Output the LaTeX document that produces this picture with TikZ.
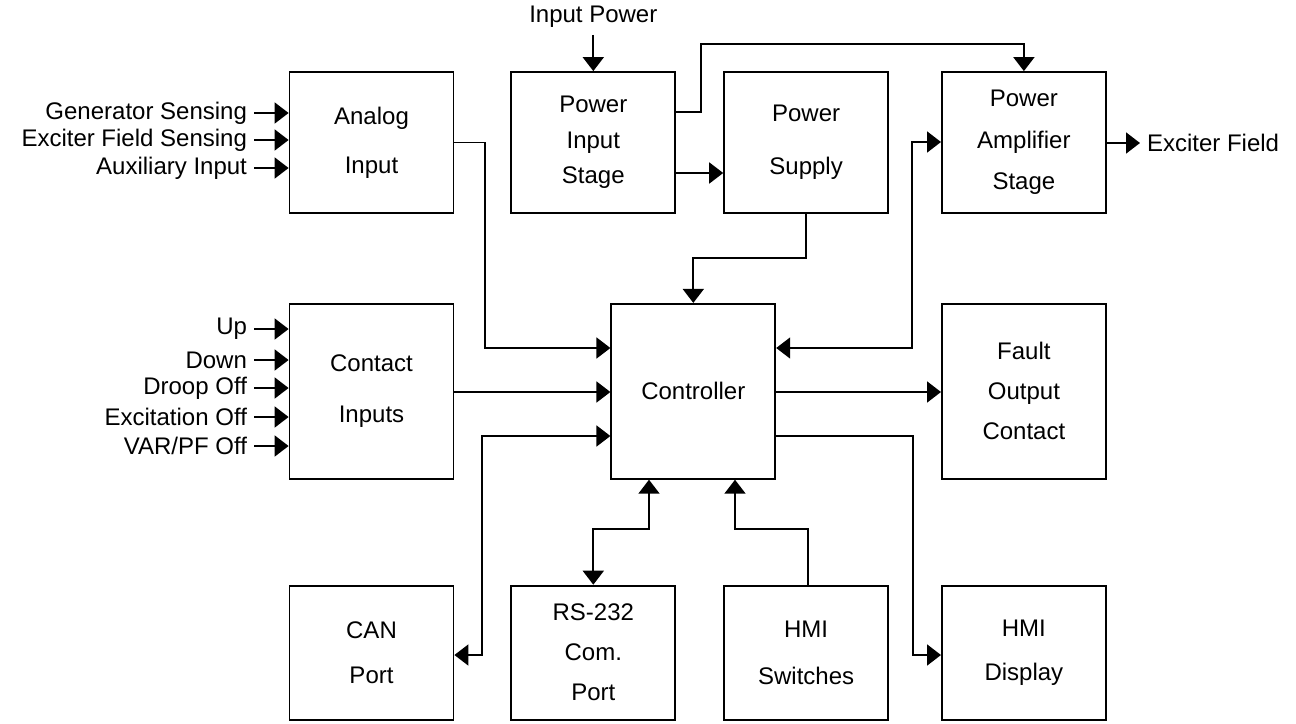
\documentclass[tikz,border=0pt]{standalone}
\usepackage{fontspec}
\setmainfont{Liberation Sans}
\usetikzlibrary{positioning, arrows.meta}
\tikzset{
>={Triangle[length=7pt, width=10.5pt]}, % solid triangle heads
every node/.style={font=\fontsize{12}{14}\selectfont},
block/.style={draw, line width=0.9pt, line join=miter, minimum width=82pt, minimum height=70.5pt, inner sep=0pt, align=center}, % the boxes
tall/.style={minimum height=87.5pt}, % middle row is higher
low/.style={minimum height=67pt}, % bottom row
lines/.style={font=\fontsize{12}{#1}\selectfont}, % spacing of the lines in a box
wire/.style={->, line width=0.9pt},
}
\begin{document}
\begin{tikzpicture}[x=0.5pt, y=-0.5pt]
            \useasboundingbox (0,0) rectangle (1296,723);
            % top row
            \node[block, lines=24.5pt] (analog) at (371.5,142.5) {Analog\\Input};
            \node[block, lines=17.75pt, right=28pt of analog] (pwrin) {Power\\Input\\Stage};
            \node[block, lines=26.5pt, right=23.5pt of pwrin] (supply) {Power\\Supply};
            \node[block, lines=20.75pt, right=26pt of supply] (amp) {Power\\Amplifier\\Stage};
            % middle row
            \node[block, tall, lines=25.5pt, below=44.5pt of analog] (contact) {Contact\\Inputs};
            \node[block, tall, right=78pt of contact] (ctrl) {Controller};
            \node[block, tall, lines=20pt, below=44.5pt of amp] (fault) {Fault\\Output\\Contact};
            % bottom row
            \node[block, low, lines=22.5pt, below=52.5pt of contact] (can) {CAN\\Port};
            \node[block, low, lines=20pt, right=28pt of can] (rs) {RS-232\\Com.\\Port};
            \node[block, low, lines=23.5pt, right=23.5pt of rs] (hmisw) {HMI\\Switches};
            \node[block, low, lines=22pt, right=26pt of hmisw] (hmidisp) {HMI\\Display};

            \node (inpow) at ([yshift=27pt]pwrin.north) {Input Power};
            \node[anchor=west] (exfield) at (1140,143) {Exciter Field};
            \foreach \y/\txt [count=\i] in {113/Generator Sensing, 140/Exciter Field Sensing, 168/Auxiliary Input}{
                \node[anchor=east] (ain\i) at (254,\y) {\txt};
                \draw[wire] (ain\i) -- (ain\i -| analog.west);
            }
            \foreach \y/\txt [count=\i] in {329/Up, 360/Down, 388/Droop Off, 417/Excitation Off, 446/{VAR/PF Off}}{
                \node[anchor=east] (cin\i) at (254,\y) {\txt};
                \draw[wire] (cin\i) -- (cin\i -| contact.west);
            }

            \draw[wire] (inpow) -- (pwrin);
            \draw[wire] (pwrin.east |- 0,173) -- (supply.west |- 0,173);
            \draw[wire] (pwrin.east |- 0,112) -| (701,44) -| (amp.north);
            \draw[wire] (supply.south) -- (supply.south |- 0,258) -| (ctrl.north);
            \draw[wire] (amp.east |- exfield) -- (exfield);
            \draw[wire] (analog.east) -| (485,348) -- (ctrl.west |- 0,348);
            \draw[wire] (contact.east |- 0,392) -- (ctrl.west |- 0,392);
            \draw[wire, <->] (ctrl.west |- 0,436) -| (482,655) -- (can.east |- 0,655);
            \draw[wire, <->] (ctrl.east |- 0,348) -| (912,142) -- (amp.west |- 0,142);
            \draw[wire] (ctrl.east |- 0,392) -- (fault.west |- 0,392);
            \draw[wire] (ctrl.east |- 0,436) -| (913,655) -- (hmidisp.west |- 0,655);
            \draw[wire, <->] (ctrl.south -| 649,0) |- (rs.north |- 0,529) -- (rs.north);
            \draw[wire] (hmisw.north -| 808,0) |- (735,529) -- (ctrl.south -| 735,0);
\end{tikzpicture}
\end{document}
